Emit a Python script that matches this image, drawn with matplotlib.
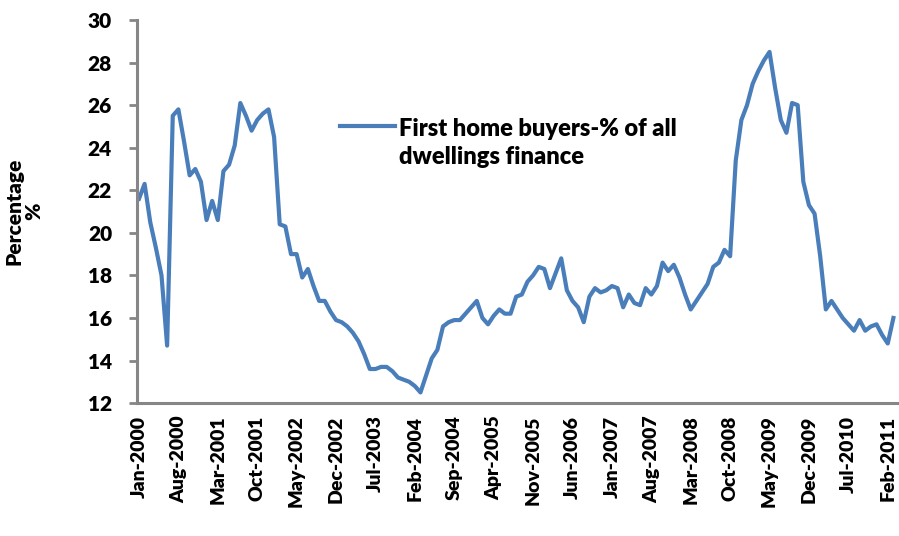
import numpy as np
import pandas as pd
import matplotlib
matplotlib.use("Agg")
import matplotlib.pyplot as plt

# monthly series, Jan-2000 .. Mar-2011
months = pd.date_range("2000-01-01", periods=135, freq="MS")
first_home_pct = [
    21.6, 22.3, 20.5, 19.3, 18.0, 14.7, 25.5, 25.8, 24.3, 22.7,
    23.0, 22.4, 20.6, 21.5, 20.6, 22.9, 23.2, 24.1, 26.1, 25.5,
    24.8, 25.3, 25.6, 25.8, 24.5, 20.4, 20.3, 19.0, 19.0, 17.9,
    18.3, 17.5, 16.8, 16.8, 16.3, 15.9, 15.8, 15.6, 15.3, 14.9,
    14.3, 13.6, 13.6, 13.7, 13.7, 13.5, 13.2, 13.1, 13.0, 12.8,
    12.5, 13.3, 14.1, 14.5, 15.6, 15.8, 15.9, 15.9, 16.2, 16.5,
    16.8, 16.0, 15.7, 16.1, 16.4, 16.2, 16.2, 17.0, 17.1, 17.7,
    18.0, 18.4, 18.3, 17.4, 18.1, 18.8, 17.3, 16.8, 16.5, 15.8,
    17.0, 17.4, 17.2, 17.3, 17.5, 17.4, 16.5, 17.1, 16.7, 16.6,
    17.4, 17.1, 17.5, 18.6, 18.2, 18.5, 17.9, 17.1, 16.4, 16.8,
    17.2, 17.6, 18.4, 18.6, 19.2, 18.9, 23.4, 25.3, 26.0, 27.0,
    27.6, 28.1, 28.5, 26.8, 25.3, 24.7, 26.1, 26.0, 22.4, 21.3,
    20.9, 18.9, 16.4, 16.8, 16.4, 16.0, 15.7, 15.4, 15.9, 15.4,
    15.6, 15.7, 15.2, 14.8, 16.0,
]
y_ticks = [12, 14, 16, 18, 20, 22, 24, 26, 28, 30]
label_step = 7
series_name = "First home buyers-% of all\ndwellings finance"

plt.rcParams["font.family"] = ["Lato", "DejaVu Sans"]
plt.rcParams["font.weight"] = "heavy"

fig = plt.figure(figsize=(8.99, 5.36), dpi=100)
ax = fig.add_axes([0.1524, 0.248, 0.847, 0.7147])

x = np.arange(len(first_home_pct))
ax.plot(x, first_home_pct, color="#4a7ebb", lw=3.0, solid_joinstyle="round",
        label=series_name)

ax.set_ylim(12, 30)
ax.set_yticks(y_ticks)
ax.set_xlim(-0.35, 134.9)
tick_pos = x[::label_step]
ax.set_xticks(tick_pos)
ax.set_xticklabels([months[i].strftime("%b-%Y") for i in tick_pos],
                   rotation=90, fontsize=14, fontweight="heavy")
ax.tick_params(axis="y", labelsize=15, length=6, width=2, color="#868686", pad=12)
ax.tick_params(axis="x", length=0, pad=9)

for s in ["top", "right"]:
    ax.spines[s].set_visible(False)
for s in ["left", "bottom"]:
    ax.spines[s].set_color("#868686")
    ax.spines[s].set_linewidth(2.2)

ax.set_ylabel("Percentage\n%", fontsize=15, fontweight="heavy", linespacing=1.0)
ax.yaxis.set_label_coords(-0.1235, 0.5)

leg = ax.legend(loc="upper left", bbox_to_anchor=(0.267, 0.745), frameon=False,
                handlelength=2.3, handletextpad=0.2, borderpad=0, borderaxespad=0,
                prop={"weight": "heavy", "size": 17})
leg.get_texts()[0].set_linespacing(1.35)
# put the legend line next to the first text line, like Excel does
for row in leg._legend_handle_box.get_children():
    for hp in row.get_children():
        hp.align = "top"

fig.savefig("out.png", dpi=100)
